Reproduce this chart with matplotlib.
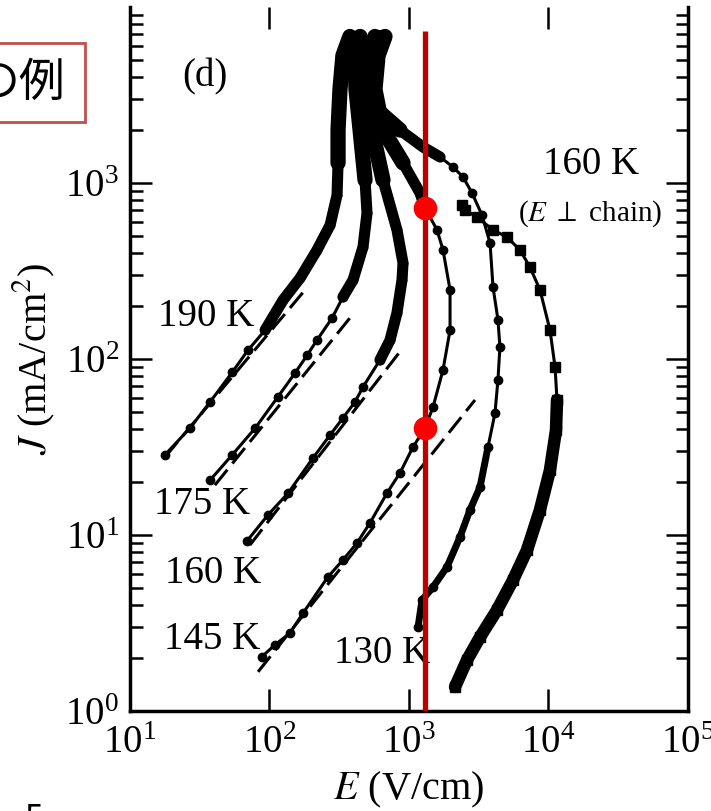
import matplotlib.pyplot as plt
from matplotlib.patches import Rectangle

plt.rcParams['font.family'] = ['Liberation Serif', 'DejaVu Serif']
plt.rcParams['mathtext.fontset'] = 'stix'

# J-E characteristics, E in V/cm, J in mA/cm^2 (E // chain unless noted)
E_190 = [17.8, 26.9, 37.5, 54, 70, 93, 125, 166, 219, 272, 305, 310, 310, 320, 336, 377]
J_190 = [28.5, 40.5, 57, 84, 112, 146, 216, 289, 416, 577, 855, 1300, 2000, 3400, 5300, 6800]

E_175 = [37.5, 54, 79, 115, 152, 186, 219, 281, 336, 397, 468, 500, 484, 446, 417, 410, 446]
J_175 = [20.5, 28.5, 40.5, 61, 83, 105, 128, 171, 225, 281, 433, 675, 1040, 2000, 3400, 5300, 6800]

E_160 = [69, 97.5, 136, 205, 272, 336, 410, 468, 619, 731, 820, 891, 906, 820, 651, 543, 509, 525, 570]
J_160 = [9.25, 13.0, 17.3, 27.4, 37.0, 46.2, 57.0, 69.3, 98.7, 128, 183, 281, 351, 541, 1040, 2000, 3400, 5300, 6800]

E_145 = [88, 109, 140, 174, 262, 336, 424, 525, 695, 861, 1068, 1303, 1487, 1753, 1969, 1969,
         1753, 1589, 1303, 1200, 906, 651, 570, 600, 673]
J_145 = [2.03, 2.37, 2.77, 3.60, 5.77, 7.21, 9.01, 11.7, 17.3, 22.5, 31.6, 40.5, 53.4, 86.6, 146, 247,
         416, 541, 721, 877, 1300, 2000, 3400, 5300, 6800]

E_130 = [1161, 1240, 1487, 1872, 2321, 2737, 3228, 3684, 4134, 4342, 4485, 4342, 4000, 3811, 3335,
         2830, 2440, 2067, 1667, 1259, 861, 590, 509, 509, 619]
J_130 = [3.00, 4.27, 5.06, 6.58, 9.75, 13.9, 18.7, 31.6, 49.3, 76.0, 117, 167, 257, 456, 658,
         877, 1082, 1233, 1406, 1602, 2000, 2600, 3600, 5300, 6700]

# 160 K, E perpendicular to chain
E_perp = [2138, 2608, 3228, 4276, 5570, 7020, 8690, 10250, 11320, 11510, 11140, 10250, 8690, 7360,
          6250, 5040, 4000, 3070, 2518, 2400]
J_perp = [1.37, 1.95, 2.63, 3.75, 5.55, 8.22, 13.9, 23.4, 39.5, 58.5, 90.1, 146, 247, 333,
          416, 493, 541, 641, 702, 750]

# power-law (ohmic) fits, end points
E_fit = {'190': [17.8, 180], '175': [40.6, 377], '160': [72.4, 861], '145': [82.8, 2972]}
J_fit = {'190': [27.7, 247], '175': [19.2, 171], '160': [8.77, 110], '145': [1.67, 58.5]}

E_mark = 1300
J_mark = [720, 40.5]

xticks = [1e1, 1e2, 1e3, 1e4, 1e5]
yticks = [1e0, 1e1, 1e2, 1e3]

fig = plt.figure(figsize=(7.11, 8.11), dpi=100)
ax = fig.add_axes([0.18284, 0.12330, 0.78481, 0.86807])
ax.set_xscale('log')
ax.set_yscale('log')
ax.set_xlim(10, 1e5)
ax.set_ylim(1, 1e4)

rnd = dict(solid_capstyle='round', solid_joinstyle='round')


def curve(E, J, thick_from, marker='o', ms=6):
    ax.plot(E, J, '-', color='k', lw=2.2, marker=marker, ms=ms, zorder=3, **rnd)
    ax.plot(E[thick_from:], J[thick_from:], '-', color='k', lw=8, zorder=3, **rnd)
    # saturated region near the top, where the points pile up
    ax.plot(E[-5:], J[-5:], '-', color='k', lw=11, zorder=3, **rnd)


curve(E_190, J_190, 5)
curve(E_175, J_175, 8)
curve(E_160, J_160, 8)
curve(E_145, J_145, 18)
curve(E_130, J_130, 18)
ax.plot(E_130[:8], J_130[:8], '-', color='k', lw=5, zorder=3, **rnd)

ax.plot(E_perp, J_perp, '-', color='k', lw=2.2, marker='s', ms=7, zorder=3)
ax.plot(E_perp[:10], J_perp[:10], '-', color='k', lw=9, zorder=3, **rnd)

for key in E_fit:
    ax.plot(E_fit[key], J_fit[key], color='k', lw=2.2, dashes=(6.5, 2.6), zorder=2)

# comparison field and the read-off points
ax.plot([E_mark, E_mark], [1, 7300], color='#c00000', lw=3.8, zorder=4, solid_capstyle='butt')
ax.plot([E_mark] * len(J_mark), J_mark, 'o', color='#ff0000', ms=17, mec='none', zorder=5)

# axes styling
ax.spines['top'].set_visible(False)
for s in ('left', 'right', 'bottom'):
    ax.spines[s].set_linewidth(2.5)
ax.set_xticks(xticks)
ax.set_yticks(yticks)
ax.tick_params(which='both', direction='in', top=True, right=True, width=1.8, labelsize=28)
ax.tick_params(which='major', length=16, pad=8)
ax.tick_params(which='minor', length=9)
ax.tick_params(axis='x', which='major', pad=10)

ax.set_xlabel('$E$ (V/cm)', fontsize=29, labelpad=6)
ax.set_ylabel('$J$ (mA/cm$^2$)', fontsize=29, labelpad=6)

txt = dict(transform=ax.transAxes, ha='center', va='center', fontsize=28)
ax.text(0.134, 0.901, '(d)', **txt)
ax.text(0.826, 0.776, '160 K', **txt)
ax.text(0.824, 0.707, '($E$ $\\perp$ chain)', transform=ax.transAxes, ha='center', va='center', fontsize=21)
ax.text(0.136, 0.560, '190 K', **txt)
ax.text(0.129, 0.294, '175 K', **txt)
ax.text(0.149, 0.195, '160 K', **txt)
ax.text(0.147, 0.102, '145 K', **txt)
ax.text(0.452, 0.081, '130 K', **txt)

# slide caption box at top left
fig.patches.append(Rectangle((-10 / 711, 1 - 122 / 811), 95 / 711, 79 / 811, transform=fig.transFigure,
                             fill=False, edgecolor='#c0504d', lw=2, zorder=6))
fig.text(66 / 711, 1 - 83 / 811, 'の例', ha='right', va='center', fontsize=33,
         family=['Noto Sans CJK JP', 'DejaVu Sans'])
fig.text(24 / 711, 1 - 802 / 811, '5', ha='left', va='top', fontsize=24,
         family=['Noto Sans CJK JP', 'DejaVu Sans'])

fig.savefig('out.png', dpi=100)
